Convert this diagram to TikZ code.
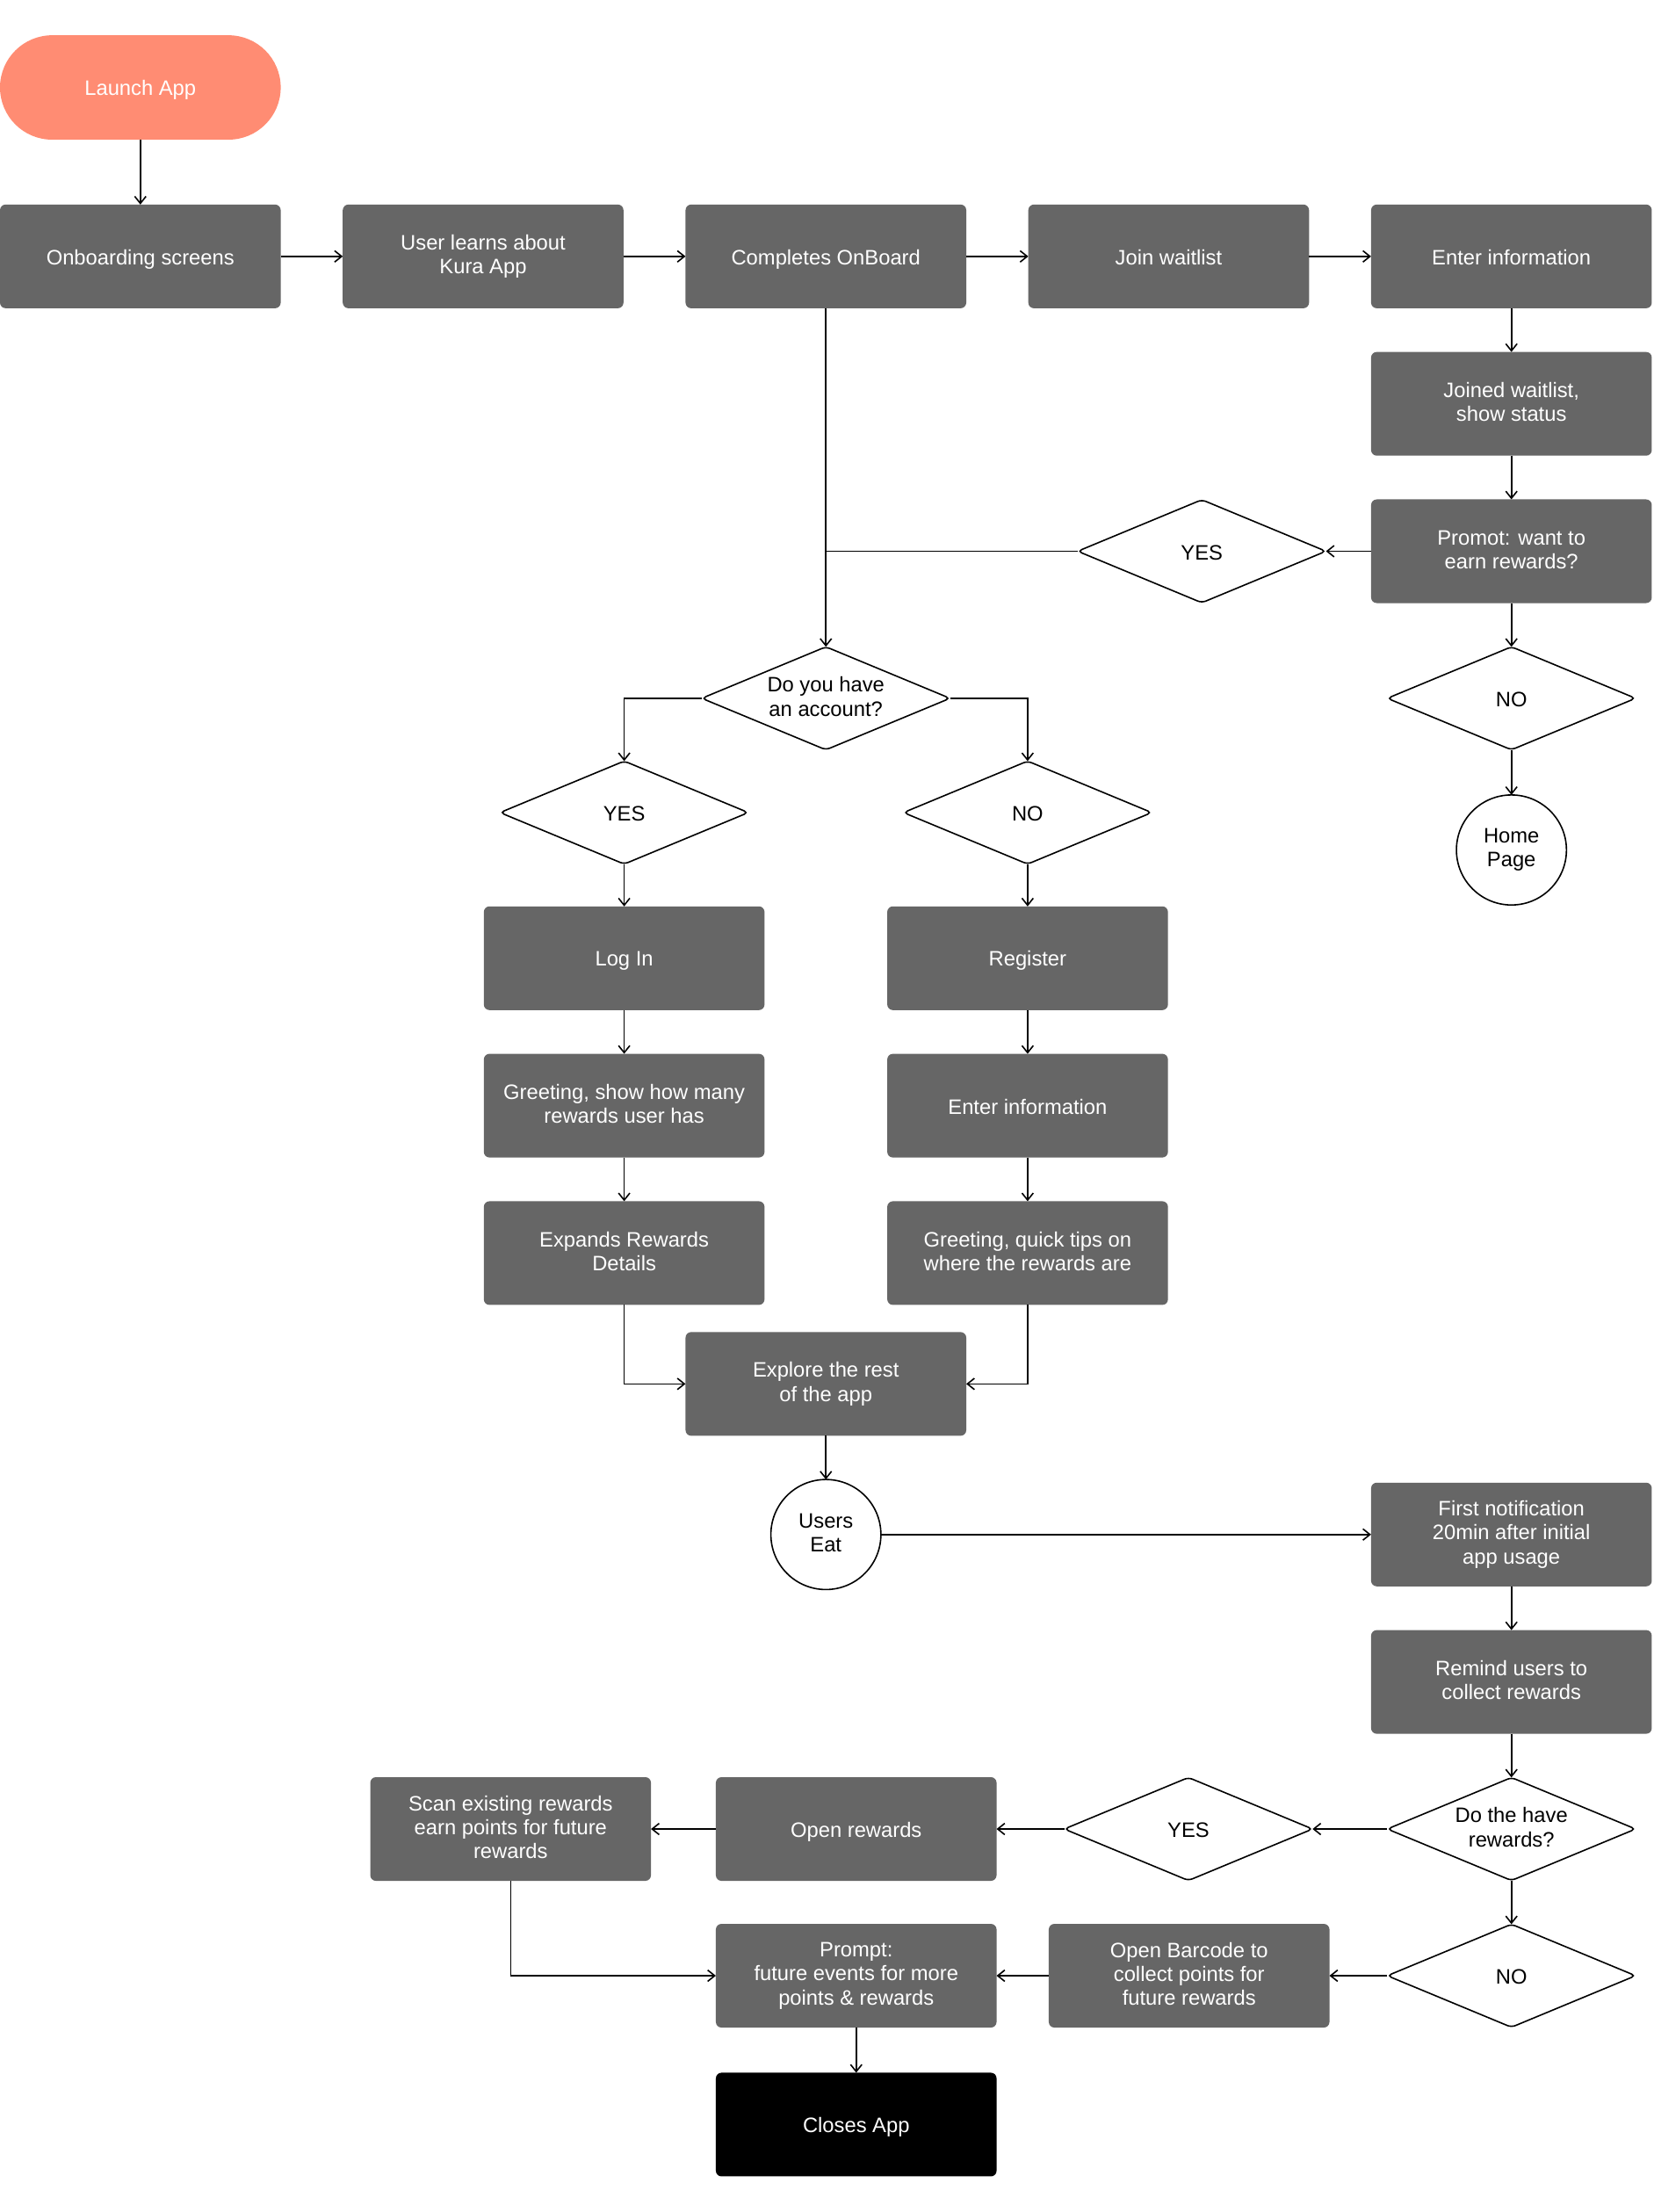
\documentclass[tikz,border=0pt]{standalone}
\usepackage{fontspec}
\setmainfont{Liberation Sans}
\usepackage{xcolor}
\usepackage{tikz}
\usetikzlibrary{arrows.meta,positioning,shapes.geometric,calc}
\definecolor{boxgray}{HTML}{666666}
\definecolor{salmon}{HTML}{FF8C73}
\newcommand{\linestrut}{\rule[-2.5pt]{0pt}{17pt}}

\begin{document}
\begin{tikzpicture}[
        x=1pt, y=1pt,
        font=\fontsize{14.8}{17}\selectfont,
        node distance=31pt,
        label text/.style={align=center,execute at begin node=\linestrut,execute at end node=\linestrut},
        block/.style={rectangle,fill=boxgray,text=white,rounded corners=4pt,minimum width=199pt,minimum height=73.5pt,inner sep=0pt,outer sep=0pt,label text},
        pill/.style={block,fill=salmon,rounded corners=37pt,minimum height=74pt},
        decision/.style={diamond,draw,line width=1pt,aspect=2.4,minimum width=176pt,minimum height=73pt,inner sep=0pt,outer sep=0pt,rounded corners=3pt,label text},
        roundnode/.style={circle,draw,line width=1pt,minimum size=78pt,inner sep=0pt,outer sep=0pt,label text},
        arrow/.style={-{Straight Barb[length=5pt,width=8pt]},line width=1pt},
        link/.style={line width=1pt}
    ]
        \useasboundingbox (0,0) rectangle (1172,-1568);

        \node[pill] (launch) at (99.5,-62) {Launch App};
        \node[block,below=46pt of launch] (onboard) {Onboarding screens};
        \node[block,right=44pt of onboard] (learn) {User learns about\\Kura App};
        \node[block,right=44pt of learn] (complete) {Completes OnBoard};
        \node[block,right=44pt of complete] (waitlist) {Join waitlist};
        \node[block,right=44pt of waitlist] (enterinfo) {Enter information};
        \node[block,below=of enterinfo] (joined) {Joined waitlist,\\show status};
        \node[block,below=of joined] (promot) {Promot: want to\\earn rewards?};
        \node[decision,below=of promot] (noearn) {NO};
        \node[roundnode,below=32pt of noearn] (home) {Home\\Page};
        \node[decision,left=32pt of promot] (yesearn) {YES};

        \node[decision,below=240pt of complete] (account) {Do you have\\an account?};
        \node[decision,below=8pt of account,xshift=-143pt] (yesacc) {YES};
        \node[decision,below=8pt of account,xshift=143pt] (noacc) {NO};
        \node[block,below=30pt of yesacc] (login) {Log In};
        \node[block,below=of login] (greetlogin) {Greeting, show how many\\rewards user has};
        \node[block,below=of greetlogin] (expand) {Expands Rewards\\Details};
        \node[block,below=30pt of noacc] (register) {Register};
        \node[block,below=of register] (enterreg) {Enter information};
        \node[block,below=of enterreg] (greetreg) {Greeting, quick tips on\\where the rewards are};
        \node[block] (explore) at ($(expand.south -| complete)+(0,-56)$) {Explore the rest\\of the app};
        \node[roundnode,below=of explore] (eat) {Users\\Eat};

        \node[block] (notify) at (enterinfo |- eat) {First notification\\20min after initial\\app usage};
        \node[block,below=of notify] (remind) {Remind users to\\collect rewards};
        \node[decision,below=of remind] (haverew) {Do the have\\rewards?};
        \node[decision,left=53pt of haverew] (yesrew) {YES};
        \node[block,left=48pt of yesrew] (openrew) {Open rewards};
        \node[block,left=46pt of openrew] (scan) {Scan existing rewards\\earn points for future\\rewards};
        \node[decision,below=31pt of haverew] (norew) {NO};
        \node[block,left=41pt of norew] (barcode) {Open Barcode to\\collect points for\\future rewards};
        \node[block,left=37pt of barcode] (prompt) {Prompt:\\future events for more\\points \& rewards};
        \node[block,fill=black,below=32pt of prompt] (closes) {Closes App};

        \draw[arrow] (launch) -- (onboard);
        \draw[arrow] (onboard) -- (learn);
        \draw[arrow] (learn) -- (complete);
        \draw[arrow] (complete) -- (waitlist);
        \draw[arrow] (waitlist) -- (enterinfo);
        \draw[arrow] (enterinfo) -- (joined);
        \draw[arrow] (joined) -- (promot);
        \draw[arrow] (promot) -- (noearn);
        \draw[arrow] (noearn) -- (home);
        \draw[arrow] (promot) -- (yesearn);
        \draw[link] (yesearn.west) -- (yesearn.west -| complete.south);
        \draw[arrow] (complete) -- (account);
        \draw[arrow] (account.west) -| (yesacc.north);
        \draw[arrow] (account.east) -| (noacc.north);
        \draw[arrow] (yesacc) -- (login);
        \draw[arrow] (login) -- (greetlogin);
        \draw[arrow] (greetlogin) -- (expand);
        \draw[arrow] (noacc) -- (register);
        \draw[arrow] (register) -- (enterreg);
        \draw[arrow] (enterreg) -- (greetreg);
        \draw[arrow] (expand.south) |- (explore.west);
        \draw[arrow] (greetreg.south) |- (explore.east);
        \draw[arrow] (explore) -- (eat);
        \draw[arrow] (eat) -- (notify);
        \draw[arrow] (notify) -- (remind);
        \draw[arrow] (remind) -- (haverew);
        \draw[arrow] (haverew) -- (yesrew);
        \draw[arrow] (yesrew) -- (openrew);
        \draw[arrow] (openrew) -- (scan);
        \draw[arrow] (haverew) -- (norew);
        \draw[arrow] (norew) -- (barcode);
        \draw[arrow] (barcode) -- (prompt);
        \draw[arrow] (scan.south) |- (prompt.west);
        \draw[arrow] (prompt) -- (closes);
    \end{tikzpicture}
\end{document}
